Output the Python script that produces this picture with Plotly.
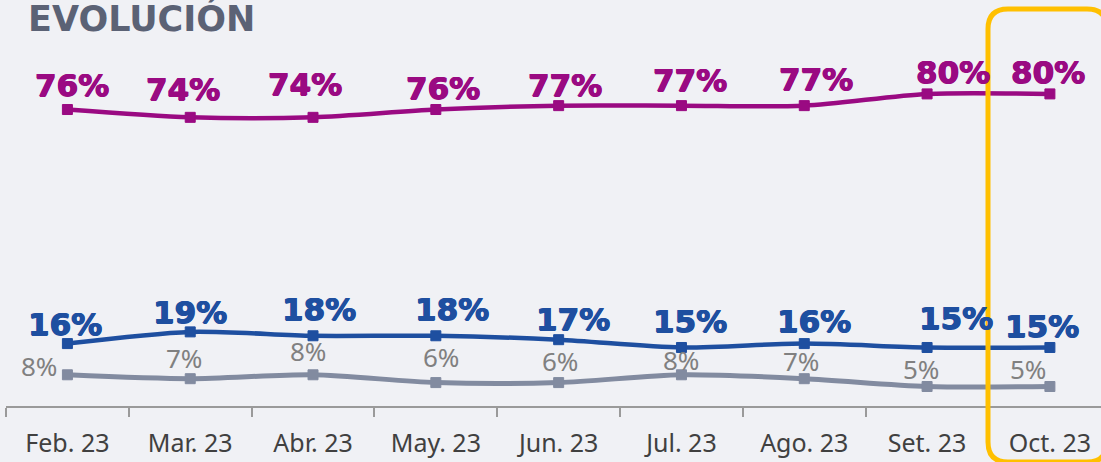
import plotly.graph_objects as go

months = ["Feb. 23", "Mar. 23", "Abr. 23", "May. 23", "Jun. 23", "Jul. 23", "Ago. 23", "Set. 23", "Oct. 23"]
serie_morada = [76, 74, 74, 76, 77, 77, 77, 80, 80]
serie_azul = [16, 19, 18, 18, 17, 15, 16, 15, 15]
serie_gris = [8, 7, 8, 6, 6, 8, 7, 5, 5]

# label offsets in pixels (dx, dy with dy positive = down on screen)
off_morada = [(5, -22), (-7.5, -25.6), (-7.7, -30.6), (7.4, -18.7), (6.4, -17.7), (9, -23.2), (12, -24.4), (25.7, -19.3), (-2.2, -19)]
off_azul = [(-2.5, -17.5), (0, -17.7), (5.6, -24.7), (16.5, -24.7), (14, -18), (8.7, -24), (10, -20.5), (28.5, -27.3), (-7.7, -19.3)]
off_gris = [(-28, -7), (-6.5, -18.4), (-5, -22), (5.6, -24), (1.7, -19.4), (-0.8, -12.6), (-3.3, -15.3), (-6.4, -15), (-22, -15)]

C_MOR = "#9A0A82"
C_AZU = "#1E4FA0"
C_GRI_LINE = "#828BA0"
C_GRI_TXT = "#808080"
BG = "#F0F1F5"

W, H = 1101, 462
ML, MB = 6, 56
fig = go.Figure()

for vals, col, lw, ms in [
    (serie_gris, C_GRI_LINE, 5, 10),
    (serie_azul, C_AZU, 4.5, 10),
    (serie_morada, C_MOR, 4.5, 10),
]:
    fig.add_trace(go.Scatter(
        x=months, y=vals, mode="lines+markers",
        line=dict(color=col, width=lw, shape="spline", smoothing=0.8),
        marker=dict(symbol="square", size=ms, color=col, line=dict(color=col, width=1)),
        hoverinfo="skip", showlegend=False, cliponaxis=False,
    ))

BOLD_FONT = "DejaVu Sans"
annotations = []
def add_labels(vals, offs, color, size, weight, family, shadow="none"):
    for m, v, (dx, dy) in zip(months, vals, offs):
        annotations.append(dict(
            x=m, y=v, xref="x", yref="y", text=f"{v}%", showarrow=False,
            xanchor="center", yanchor="middle", xshift=dx, yshift=-dy + size * 0.08,
            font=dict(family=family, size=size, color=color, weight=weight, shadow=shadow),
        ))

add_labels(serie_morada, off_morada, C_MOR, 31, 700, BOLD_FONT,
           shadow=f"0.6px 0 0 {C_MOR}, -0.6px 0 0 {C_MOR}, 0 0.5px 0 {C_MOR}")
add_labels(serie_azul, off_azul, C_AZU, 31, 700, BOLD_FONT,
           shadow=f"0.6px 0 0 {C_AZU}, -0.6px 0 0 {C_AZU}, 0 0.5px 0 {C_AZU}")
add_labels(serie_gris, off_gris, C_GRI_TXT, 26, 400, "Noto Sans")

# highlight frame (pixel coordinates relative to the top-left of the plot area)
fx0, fy0, fx1, fy1, fr = 988 - ML, 9, 1107 - ML, 462, 20
frame_path = (
    f"M {fx0},{-(fy0 + fr)} Q {fx0},{-fy0} {fx0 + fr},{-fy0} L {fx1 - fr},{-fy0} "
    f"Q {fx1},{-fy0} {fx1},{-(fy0 + fr)} L {fx1},{-(fy1 - fr)} Q {fx1},{-fy1} {fx1 - fr},{-fy1} "
    f"L {fx0 + fr},{-fy1} Q {fx0},{-fy1} {fx0},{-(fy1 - fr)} Z"
)

fig.update_layout(
    width=W, height=H,
    margin=dict(l=ML, r=0, t=0, b=MB, pad=0),
    paper_bgcolor=BG, plot_bgcolor=BG,
    annotations=annotations,
    title=dict(
        text="EVOLUCIÓN", x=28 / W, y=1 - 19 / H, xref="container", yref="container",
        xanchor="left", yanchor="middle",
        font=dict(family="DejaVu Sans", size=35, color="#5B6275", weight=700),
    ),
    xaxis=dict(
        type="category", range=[-0.5, -0.5 + (W - 6.1) / 122.8],
        showgrid=False, zeroline=False,
        showline=True, linecolor="#9A9A9A", linewidth=2,
        ticks="outside", tickson="boundaries", ticklen=9, tickwidth=2, tickcolor="#9A9A9A",
        tickfont=dict(family="Noto Sans", size=25, color="#404040"),
        ticklabelstandoff=14,
    ),
    yaxis=dict(
        range=[0, 405.9 / 3.9], visible=False, fixedrange=True,
    ),
    shapes=[dict(
        type="path", xref="paper", yref="paper", xsizemode="pixel", ysizemode="pixel",
        xanchor=0, yanchor=1, layer="above", path=frame_path,
        line=dict(color="#FFC000", width=5),
    )],
)

fig.write_html("out.html", config={"displayModeBar": False},
               post_script="document.body.style.margin='0';document.body.style.overflow='hidden';")
